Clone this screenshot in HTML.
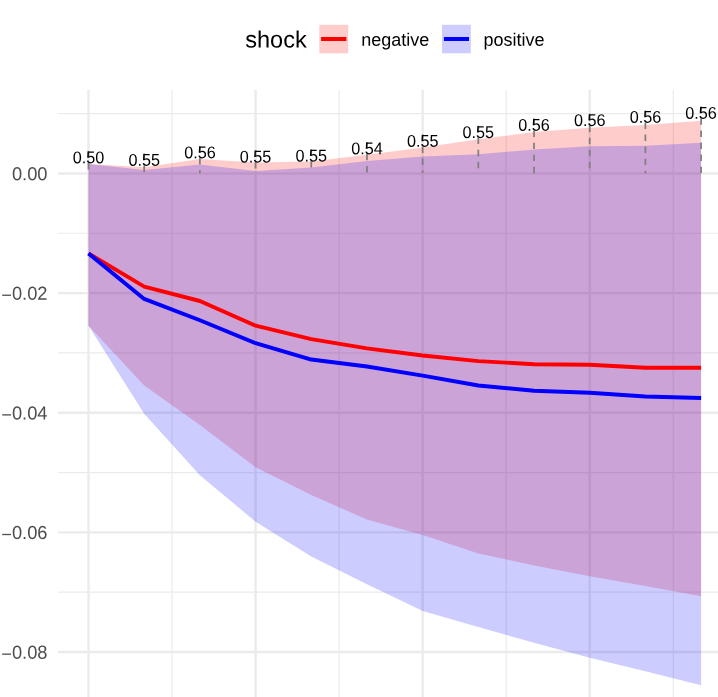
<!DOCTYPE html>
<html><head><meta charset="utf-8"><title>chart</title>
<style>
html,body{margin:0;padding:0;background:#fff;}
body{width:718px;height:697px;overflow:hidden;}
svg{display:block;will-change:transform;}
text{font-family:"Liberation Sans",sans-serif;}
</style></head><body>
<svg width="718" height="697" viewBox="0 0 718 697">
<rect width="718" height="697" fill="#ffffff"/>

<g stroke="#ebebeb" stroke-width="1.2" fill="none">
<line x1="58.0" x2="718" y1="113.63" y2="113.63"/>
<line x1="58.0" x2="718" y1="233.27" y2="233.27"/>
<line x1="58.0" x2="718" y1="352.91" y2="352.91"/>
<line x1="58.0" x2="718" y1="472.55" y2="472.55"/>
<line x1="58.0" x2="718" y1="592.19" y2="592.19"/>
<line x1="172.03" x2="172.03" y1="89.8" y2="697"/>
<line x1="339.11" x2="339.11" y1="89.8" y2="697"/>
<line x1="506.17" x2="506.17" y1="89.8" y2="697"/>
<line x1="673.25" x2="673.25" y1="89.8" y2="697"/>
</g>
<g stroke="#ebebeb" stroke-width="2.4" fill="none">
<line x1="58.0" x2="718" y1="173.45" y2="173.45"/>
<line x1="58.0" x2="718" y1="293.09" y2="293.09"/>
<line x1="58.0" x2="718" y1="412.73" y2="412.73"/>
<line x1="58.0" x2="718" y1="532.37" y2="532.37"/>
<line x1="58.0" x2="718" y1="652.01" y2="652.01"/>
<line x1="88.50" x2="88.50" y1="89.8" y2="697"/>
<line x1="255.57" x2="255.57" y1="89.8" y2="697"/>
<line x1="422.64" x2="422.64" y1="89.8" y2="697"/>
<line x1="589.71" x2="589.71" y1="89.8" y2="697"/>
</g>
<polygon points="88.50,163.90 144.19,167.30 199.88,159.00 255.57,162.40 311.26,161.40 366.95,154.70 422.64,147.60 478.33,139.20 534.02,132.10 589.71,127.80 645.40,125.10 701.09,120.70 701.09,596.20 645.40,586.00 589.71,576.30 534.02,565.50 478.33,553.40 422.64,534.90 366.95,519.40 311.26,495.10 255.57,467.20 199.88,425.00 144.19,385.50 88.50,325.80" fill="#ff0000" fill-opacity="0.2"/>
<polygon points="88.50,163.90 144.19,170.00 199.88,164.40 255.57,171.10 311.26,167.50 366.95,160.90 422.64,156.50 478.33,154.20 534.02,149.60 589.71,146.20 645.40,145.75 701.09,142.70 701.09,685.30 645.40,671.30 589.71,657.70 534.02,642.80 478.33,627.10 422.64,610.90 366.95,584.30 311.26,556.60 255.57,521.70 199.88,475.30 144.19,413.80 88.50,325.80" fill="#0000ff" fill-opacity="0.2"/>
<polyline points="88.50,253.40 144.19,286.60 199.88,301.00 255.57,325.70 311.26,339.10 366.95,348.35 422.64,355.50 478.33,361.10 534.02,364.30 589.71,364.70 645.40,367.80 701.09,367.80" fill="none" stroke="#ff0000" stroke-width="3.9" stroke-linejoin="round"/>
<polyline points="88.50,253.40 144.19,298.90 199.88,320.30 255.57,343.20 311.26,359.55 366.95,366.50 422.64,375.60 478.33,385.50 534.02,390.70 589.71,392.80 645.40,396.50 701.09,398.00" fill="none" stroke="#0000ff" stroke-width="3.9" stroke-linejoin="round"/>
<g stroke="#7f7f7f" stroke-width="1.75" stroke-dasharray="6.4 5.65" fill="none">
<line x1="88.50" x2="88.50" y1="151.00" y2="173.25"/>
<line x1="144.19" x2="144.19" y1="153.50" y2="173.25"/>
<line x1="199.88" x2="199.88" y1="146.05" y2="173.25"/>
<line x1="255.57" x2="255.57" y1="150.10" y2="173.25"/>
<line x1="311.26" x2="311.26" y1="149.15" y2="173.25"/>
<line x1="366.95" x2="366.95" y1="141.90" y2="173.25"/>
<line x1="422.64" x2="422.64" y1="134.45" y2="173.25"/>
<line x1="478.33" x2="478.33" y1="125.65" y2="173.25"/>
<line x1="534.02" x2="534.02" y1="118.55" y2="173.25"/>
<line x1="589.71" x2="589.71" y1="113.75" y2="173.25"/>
<line x1="645.40" x2="645.40" y1="110.45" y2="173.25"/>
<line x1="701.09" x2="701.09" y1="106.40" y2="173.25"/>
</g>
<g font-size="16.2" fill="#000" text-anchor="middle">
<text transform="translate(88.50 163.30) rotate(0.03) scale(1 1.05)">0.50</text>
<text transform="translate(144.19 165.80) rotate(0.03) scale(1 1.05)">0.55</text>
<text transform="translate(199.88 158.35) rotate(0.03) scale(1 1.05)">0.56</text>
<text transform="translate(255.57 162.40) rotate(0.03) scale(1 1.05)">0.55</text>
<text transform="translate(311.26 161.45) rotate(0.03) scale(1 1.05)">0.55</text>
<text transform="translate(366.95 154.20) rotate(0.03) scale(1 1.05)">0.54</text>
<text transform="translate(422.64 146.75) rotate(0.03) scale(1 1.05)">0.55</text>
<text transform="translate(478.33 137.95) rotate(0.03) scale(1 1.05)">0.55</text>
<text transform="translate(534.02 130.85) rotate(0.03) scale(1 1.05)">0.56</text>
<text transform="translate(589.71 126.05) rotate(0.03) scale(1 1.05)">0.56</text>
<text transform="translate(645.40 122.75) rotate(0.03) scale(1 1.05)">0.56</text>
<text transform="translate(701.09 118.70) rotate(0.03) scale(1 1.05)">0.56</text>
</g>
<g font-size="18.3" fill="#4d4d4d" text-anchor="end">
<text transform="translate(47.5 180.20) rotate(0.03) scale(1 1.035)">0.00</text>
<text transform="translate(47.5 299.84) rotate(0.03) scale(1 1.035)">0.02</text>
<line x1="2.2" x2="11.0" y1="295.24" y2="295.24" stroke="#4d4d4d" stroke-width="1.3"/>
<text transform="translate(47.5 419.48) rotate(0.03) scale(1 1.035)">0.04</text>
<line x1="2.2" x2="11.0" y1="414.88" y2="414.88" stroke="#4d4d4d" stroke-width="1.3"/>
<text transform="translate(47.5 539.12) rotate(0.03) scale(1 1.035)">0.06</text>
<line x1="2.2" x2="11.0" y1="534.52" y2="534.52" stroke="#4d4d4d" stroke-width="1.3"/>
<text transform="translate(47.5 658.76) rotate(0.03) scale(1 1.035)">0.08</text>
<line x1="2.2" x2="11.0" y1="654.16" y2="654.16" stroke="#4d4d4d" stroke-width="1.3"/>
</g>
<text x="245.2" y="47.45" font-size="23.55" fill="#000" transform="rotate(0.03 245 47)">shock</text>
<rect x="319.3" y="24.8" width="28.9" height="28.5" fill="#ffcccc"/>
<line x1="321.1" x2="346.4" y1="39" y2="39" stroke="#ff0000" stroke-width="4"/>
<text x="361.2" y="45.7" font-size="18" fill="#000" transform="rotate(0.03 361 45)">negative</text>
<rect x="442.0" y="24.8" width="28.8" height="28.5" fill="#ccccff"/>
<line x1="443.9" x2="469.0" y1="39" y2="39" stroke="#0000ff" stroke-width="4"/>
<text x="483.4" y="45.7" font-size="18" fill="#000" transform="rotate(0.03 483 45)">positive</text>
</svg></body></html>
